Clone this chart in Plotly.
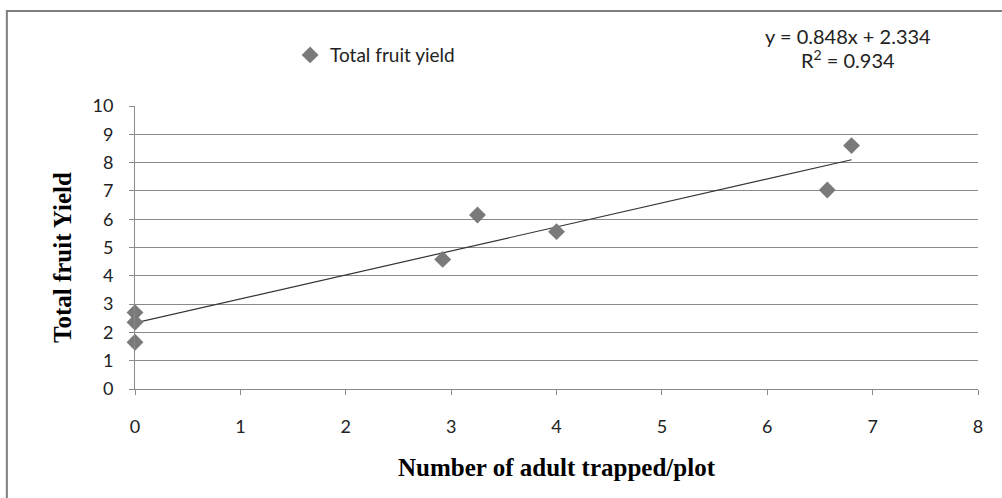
import numpy as np
import plotly.graph_objects as go

# Data
adults_trapped = [0, 0, 0, 2.92, 3.25, 4.0, 6.57, 6.80]
fruit_yield = [2.70, 2.36, 1.65, 4.58, 6.15, 5.56, 7.03, 8.60]
slope = 0.848
intercept = 2.334
r_squared = 0.934
x_ticks = [0, 1, 2, 3, 4, 5, 6, 7, 8]
y_ticks = [0, 1, 2, 3, 4, 5, 6, 7, 8, 9, 10]

sans = "Lato, Open Sans, sans-serif"
tick_font = dict(family=sans, size=18, color="#222222")
title_font = dict(family="Liberation Serif, Times New Roman, serif", size=25, color="#000000")
grid_col = "#8a8a8a"

fig = go.Figure()

xs = np.array([min(adults_trapped), max(adults_trapped)])
fig.add_trace(go.Scatter(
    x=xs, y=slope * xs + intercept, mode="lines",
    line=dict(color="#333333", width=1.2), showlegend=False, hoverinfo="skip"))

fig.add_trace(go.Scatter(
    x=adults_trapped, y=fruit_yield, mode="markers", name="Total fruit yield",
    cliponaxis=False,
    marker=dict(symbol="diamond", size=13, color="#7a7a7a", line=dict(width=0))))

fig.update_layout(
    width=1002, height=498,
    margin=dict(l=135, r=24, t=106, b=109),
    plot_bgcolor="white", paper_bgcolor="white",
    showlegend=True,
    legend=dict(x=0.184, y=1.18, xanchor="left", yanchor="middle",
                font=dict(family=sans, size=19, color="#222222"),
                bgcolor="rgba(0,0,0,0)", itemwidth=30),
    xaxis=dict(range=[0, 8], tickvals=x_ticks, showgrid=False, zeroline=False,
               showline=True, linecolor=grid_col, linewidth=1,
               ticks="outside", ticklen=5, tickcolor=grid_col, tickfont=tick_font,
               ticklabelstandoff=16,
               title=dict(text="<b>Number of adult trapped/plot</b>", font=title_font, standoff=22)),
    yaxis=dict(range=[0, 10], tickvals=y_ticks, showgrid=True, gridcolor=grid_col, gridwidth=1,
               zeroline=False, showline=True, linecolor=grid_col, linewidth=1,
               ticks="outside", ticklen=5, tickcolor=grid_col, tickfont=tick_font,
               ticklabelstandoff=12),
    shapes=[dict(type="rect", xref="paper", yref="paper",
                 x0=-0.152, x1=1.2, y0=-0.6, y1=1.336,
                 line=dict(color="#7f7f7f", width=2), fillcolor="rgba(0,0,0,0)", layer="below")],
    annotations=[
        dict(xref="paper", yref="paper", x=(62 - 135) / 843, y=(389 - 258) / 283,
             xanchor="center", yanchor="middle", textangle=-90,
             text="<b>Total fruit Yield</b>", showarrow=False, font=title_font),
        dict(xref="paper", yref="paper", x=(848 - 135) / 843, y=(389 - 36) / 283,
             xanchor="center", yanchor="middle",
             text=f"y = {slope}x + {intercept}", showarrow=False,
             font=dict(family=sans, size=20, color="#222222")),
        dict(xref="paper", yref="paper", x=(848 - 135) / 843, y=(389 - 59) / 283,
             xanchor="center", yanchor="middle",
             text=f"R<sup>2</sup> = {r_squared}", showarrow=False,
             font=dict(family=sans, size=20, color="#222222")),
    ],
)

fig.write_html("out.html")
